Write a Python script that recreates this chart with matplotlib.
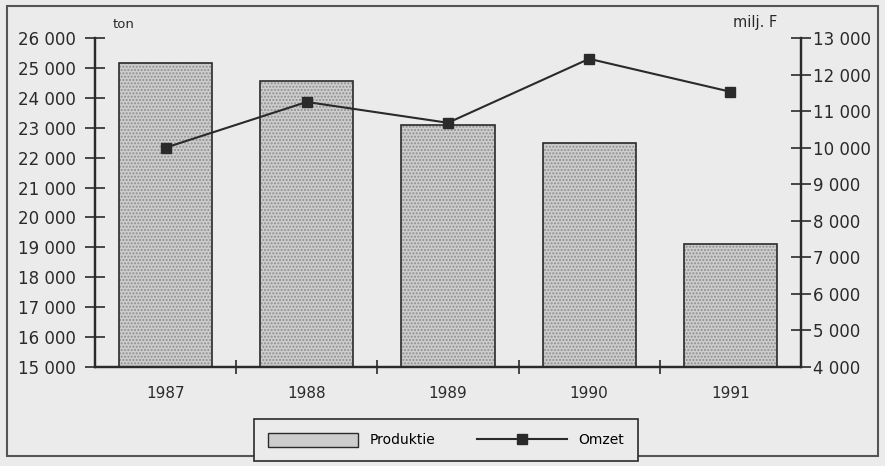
import matplotlib.pyplot as plt
from matplotlib.patches import Rectangle
from matplotlib.lines import Line2D
from matplotlib.ticker import FuncFormatter

years = ["1987", "1988", "1989", "1990", "1991"]
produktie = [25180, 24560, 23100, 22500, 19120]   # ton
omzet = [10000, 11250, 10680, 12430, 11530]        # milj. F

bg = "#ebebeb"
bar_col = "#cdcdcd"
dot_col = "#8e8e8e"
ink = "#2a2a2a"


def spaced(v, pos):
    return f"{int(v):,}".replace(",", " ")


fig = plt.figure(figsize=(8.85, 4.66), dpi=100, facecolor=bg)
ax = fig.add_axes([0.1073, 0.2124, 0.7977, 0.7061])
ax.set_facecolor(bg)
ax2 = ax.twinx()

x = list(range(len(years)))
heights = [p - 15000 for p in produktie]
# stippled fill, then the outline on top
ax.bar(x, heights, bottom=15000, width=0.66, color=bar_col,
       edgecolor=dot_col, linewidth=0, hatch=".....", zorder=2)
ax.bar(x, heights, bottom=15000, width=0.66, fill=False,
       edgecolor=ink, linewidth=1.2, zorder=2)
ax2.plot(x, omzet, color=ink, linewidth=1.5, marker="s", markersize=7,
         markerfacecolor=ink, markeredgecolor=ink, zorder=3)

ax.set_xlim(-0.5, 4.5)
ax.set_ylim(15000, 26000)
ax2.set_ylim(4000, 13000)
ax.set_yticks(range(15000, 26001, 1000))
ax2.set_yticks(range(4000, 13001, 1000))
ax.yaxis.set_major_formatter(FuncFormatter(spaced))
ax2.yaxis.set_major_formatter(FuncFormatter(spaced))

ax.set_xticks([0.5, 1.5, 2.5, 3.5])
ax.set_xticklabels([])
ax.set_xticks(x, minor=True)
ax.set_xticklabels(years, minor=True)
ax.tick_params(axis="x", which="major", direction="inout", length=10, width=1.2, color=ink)
ax.tick_params(axis="x", which="minor", length=0, pad=14, labelsize=11, labelcolor=ink)
ax.tick_params(axis="y", direction="inout", length=14, width=1.2, color=ink,
               labelsize=12, labelcolor=ink, pad=7)
ax2.tick_params(axis="y", direction="inout", length=14, width=1.2, color=ink,
                labelsize=12, labelcolor=ink, pad=2)

for a in (ax, ax2):
    a.spines["top"].set_visible(False)
    for s in ("left", "right", "bottom"):
        a.spines[s].set_linewidth(1.6)
        a.spines[s].set_color(ink)

fig.text(113 / 885, 1 - 24 / 466, "ton", fontsize=9.5, color=ink, va="center")
fig.text(733 / 885, 1 - 22 / 466, "milj. F", fontsize=10.5, color=ink, va="center")

# outer frame
fig.patches.append(Rectangle((7 / 885, 1 - 456 / 466), 871 / 885, 450 / 466,
                             transform=fig.transFigure, fill=False,
                             edgecolor="#555555", linewidth=1.5, zorder=0))

handles = [Rectangle((0, 0), 1, 1, facecolor=bar_col, edgecolor=ink, linewidth=1.0),
           Line2D([], [], color=ink, linewidth=1.5, marker="s", markersize=7)]
leg = fig.legend(handles, ["Produktie", "Omzet"], ncol=2,
                 loc="center", bbox_to_anchor=(446 / 885, 1 - 440 / 466),
                 frameon=True, fancybox=False, edgecolor=ink, facecolor=bg,
                 framealpha=1, fontsize=10, handlelength=6.5, handleheight=1.2,
                 columnspacing=3, borderpad=1.0)
leg.get_frame().set_linewidth(1.2)
leg.set_zorder(5)

fig.savefig("out.png", dpi=100, facecolor=bg)
